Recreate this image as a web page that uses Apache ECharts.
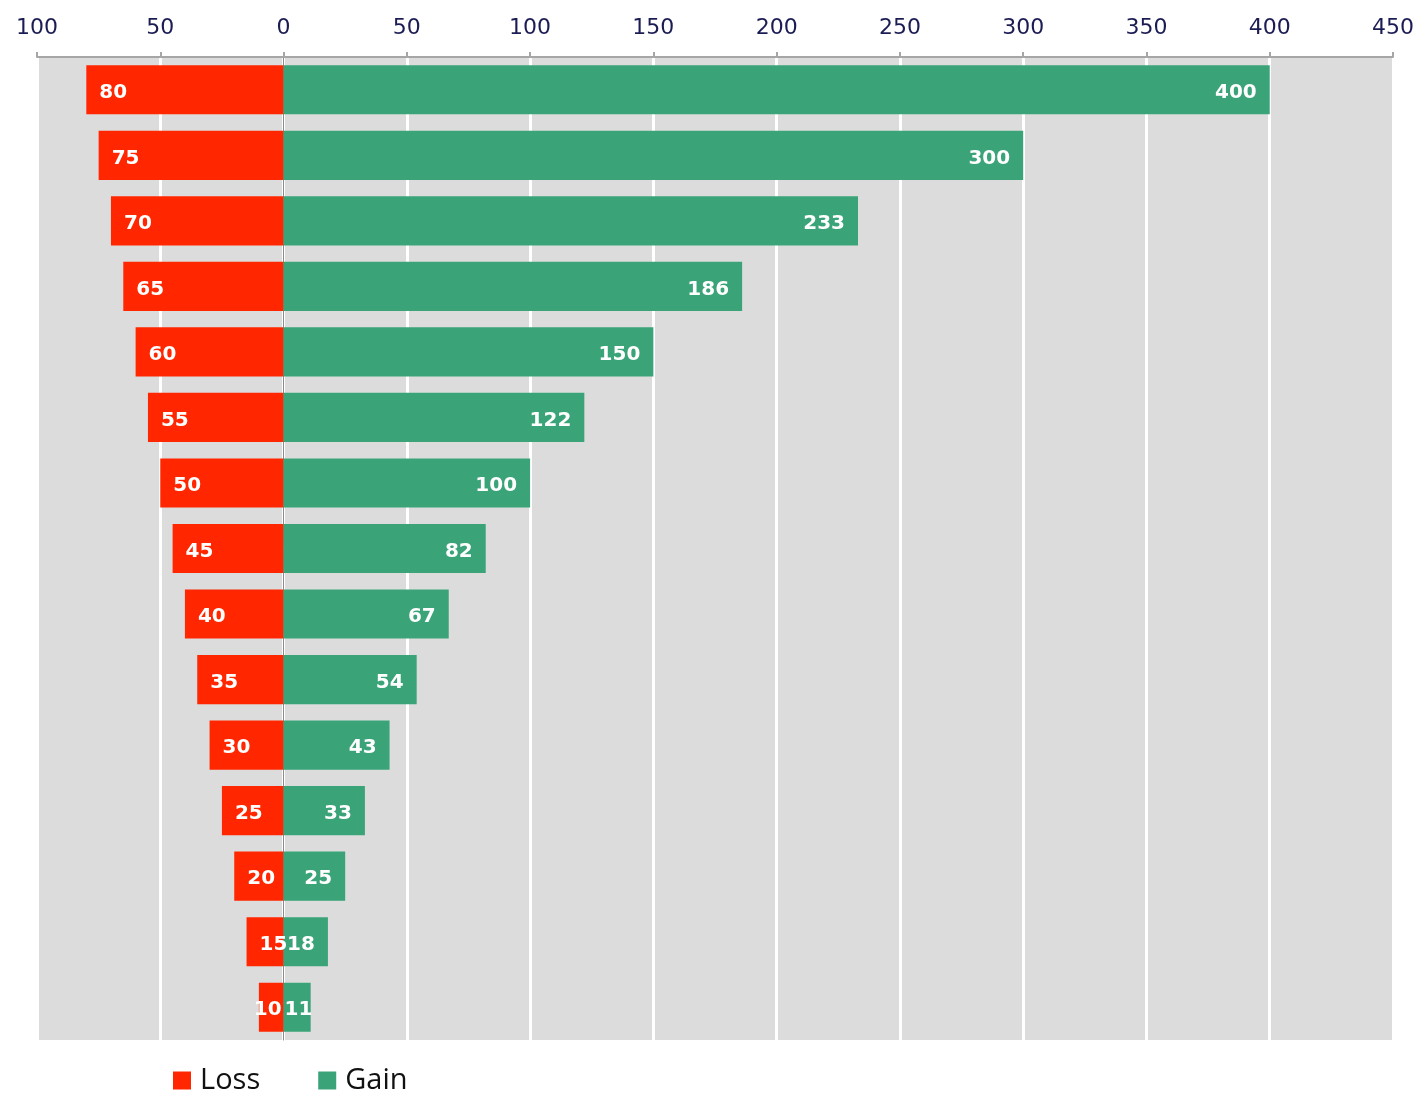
<!DOCTYPE html>
<html>
<head>
<meta charset="utf-8">
<script src="https://cdn.jsdelivr.net/npm/echarts@6/dist/echarts.min.js"></script>
<style>
  html, body { margin: 0; padding: 0; background: #fff; }
  #chart { width: 1418px; height: 1096px; }
</style>
</head>
<body>
<div id="chart"></div>
<script>
// rows from top to bottom
var categories = ["1", "2", "3", "4", "5", "6", "7", "8", "9", "10", "11", "12", "13", "14", "15"];
var lossValues = [80, 75, 70, 65, 60, 55, 50, 45, 40, 35, 30, 25, 20, 15, 10];
var gainValues = [400, 300, 233, 186, 150, 122, 100, 82, 67, 54, 43, 33, 25, 18, 11];

var myChart = echarts.init(document.getElementById("chart"));

var barLabel = {
  show: true,
  color: "#fff",
  fontFamily: "DejaVu Sans",
  fontWeight: "bold",
  fontSize: 20,
  distance: 13,
  offset: [0, 3],
  formatter: function (p) { return Math.abs(p.value); }
};

// the smallest row has bars too narrow for the label, so squeeze them to the zero line
var lossData = lossValues.map(function (v, i) {
  if (i == lossValues.length - 1) {
    return { value: -v, label: { position: "insideRight", distance: 2 } };
  }
  return -v;
});
var gainData = gainValues.map(function (v, i) {
  if (i == gainValues.length - 1) {
    return { value: v, label: { position: "insideLeft", distance: 1 } };
  }
  return v;
});

var option = {
  animation: false,
  grid: {
    left: 37,
    right: 25,
    top: 57,
    bottom: 56,
    show: true,
    backgroundColor: "#dcdcdc",
    borderWidth: 0
  },
  legend: {
    left: 168,
    top: 1061,
    itemWidth: 18,
    itemHeight: 18,
    itemGap: 58,
    icon: "rect",
    textStyle: {
      fontFamily: "Open Sans",
      fontSize: 29,
      color: "#111",
      padding: [0, 0, 0, 4]
    },
    data: ["Loss", "Gain"]
  },
  xAxis: {
    type: "value",
    position: "top",
    min: -100,
    max: 450,
    interval: 50,
    axisLine: { show: true, lineStyle: { color: "#a6a6a6", width: 2 } },
    axisTick: { show: true, length: 5, lineStyle: { color: "#a6a6a6", width: 2 } },
    axisLabel: {
      margin: 18,
      fontFamily: "DejaVu Sans",
      fontSize: 22,
      color: "#1c1c54",
      formatter: function (v) { return Math.abs(v); }
    },
    splitLine: { show: true, lineStyle: { color: "#ffffff", width: 3 } }
  },
  yAxis: {
    type: "category",
    inverse: true,
    data: categories,
    axisLine: { show: true, onZero: true, lineStyle: { color: "#8c8c8c", width: 1 } },
    axisTick: { show: false },
    axisLabel: { show: false }
  },
  series: [
    {
      name: "Loss",
      type: "bar",
      stack: "total",
      barCategoryGap: "25%",
      itemStyle: { color: "#ff2600" },
      label: Object.assign({}, barLabel, { position: "insideLeft" }),
      data: lossData
    },
    {
      name: "Gain",
      type: "bar",
      stack: "total",
      barCategoryGap: "25%",
      itemStyle: { color: "#3aa378" },
      label: Object.assign({}, barLabel, { position: "insideRight" }),
      data: gainData
    }
  ]
};

myChart.setOption(option);
</script>
</body>
</html>
